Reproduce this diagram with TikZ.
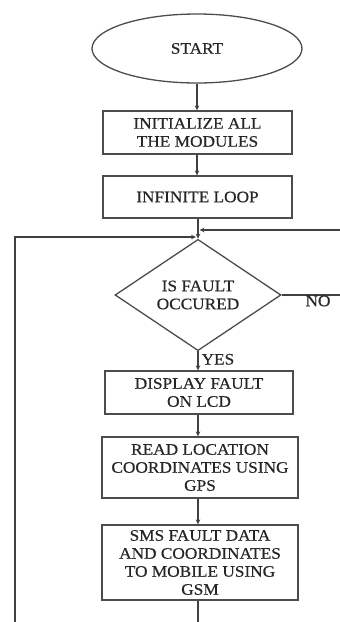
\documentclass[tikz,border=0pt]{standalone}
\usepackage{fontspec}
\setmainfont{Liberation Serif}[FakeStretch=1.08,FakeBold=0.5]
\usetikzlibrary{shapes.geometric,arrows.meta}
\begin{document}
\begin{tikzpicture}[x=1pt,y=1pt,
  every node/.style={font=\fontsize{16}{18}\selectfont, text=black!85},
  line/.style={draw=black!75, line width=1.2pt},
  arr/.style={line, -{Stealth[length=5pt,width=4.5pt]}},
  procbox/.style={draw=black!70, line width=1.3pt, rectangle, align=center, inner sep=0pt},
  decbox/.style={draw=black!70, line width=1.3pt, diamond, align=center, inner sep=0pt},
  termbox/.style={draw=black!70, line width=1.3pt, ellipse, inner sep=0pt}]
\useasboundingbox (0,0) rectangle (340,-622);
\node[termbox, minimum width=210, minimum height=69] (start) at (197,-48.5) {START};
\node[procbox, minimum width=189, minimum height=43] (init) at (197.5,-132.5) {INITIALIZE ALL\\THE MODULES};
\node[procbox, minimum width=189, minimum height=42] (loop) at (197.5,-197) {INFINITE LOOP};
\node[decbox, minimum width=166, minimum height=99] (fault) at (198,-295) {IS FAULT\\OCCURED};
\node[procbox, minimum width=188, minimum height=43] (disp) at (199,-392.5) {DISPLAY FAULT\\ON LCD};
\node[procbox, minimum width=196, minimum height=61] (gps) at (200,-467.5) {READ LOCATION\\COORDINATES USING\\GPS};
\node[procbox, minimum width=196, minimum height=75] (sms) at (200,-562.5) {SMS FAULT DATA\\AND COORDINATES\\TO MOBILE USING\\GSM};
\coordinate (bot) at (198,-622);
\coordinate (lb) at (15,-622);
\coordinate (lt) at (15,-237);
\coordinate (lin) at (196,-237);
\coordinate (rin) at (340,-230);
\coordinate (rtip) at (199.5,-230);
\coordinate (noend) at (340,-295);
\draw[arr] (start.south) -- (init.north -| start.south);
\draw[arr] (init.south -| start.south) -- (loop.north -| start.south);
\draw[arr] (loop.south -| fault.north) -- (fault.north);
\draw[arr] (fault.south) -- node[right=2pt, pos=0.42, inner sep=1pt] {YES} (disp.north -| fault.south);
\draw[arr] (disp.south -| fault.south) -- (gps.north -| fault.south);
\draw[arr] (gps.south -| fault.south) -- (sms.north -| fault.south);
\draw[line] (sms.south -| fault.south) -- (bot);
\draw[arr] (lb) -- (lt) -- (lin);
\draw[arr] (rin) -- (rtip);
\draw[line] (fault.east) -- (noend);
\node (no) at (318,-301) {NO};
\end{tikzpicture}
\end{document}
